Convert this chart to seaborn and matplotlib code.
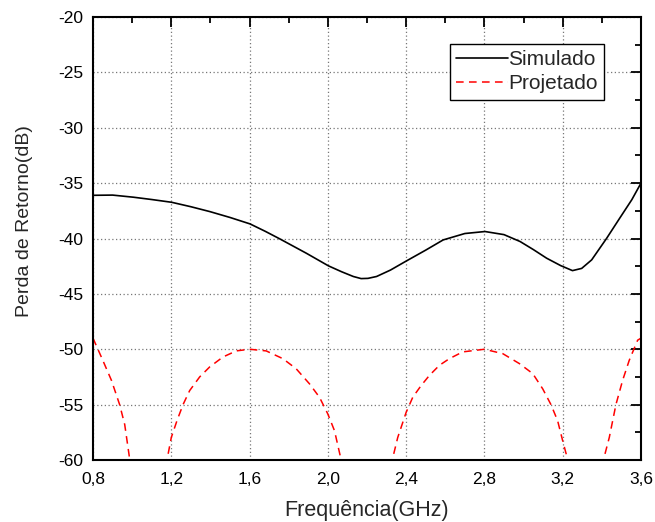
import pandas as pd
import matplotlib
matplotlib.use("Agg")
import matplotlib.pyplot as plt
from matplotlib.ticker import MultipleLocator
import seaborn as sns

# Simulado (linha preta)
freq_sim = [0.8, 0.9, 1.006, 1.1, 1.202, 1.3, 1.397, 1.5, 1.602, 1.68, 1.755,
            1.89, 2.003, 2.07, 2.13, 2.17, 2.205, 2.249, 2.32, 2.402, 2.5,
            2.589, 2.7, 2.803, 2.9, 2.982, 3.05, 3.118, 3.19, 3.25, 3.297,
            3.348, 3.425, 3.49, 3.553, 3.6]
perda_sim = [-36.1, -36.08, -36.27, -36.48, -36.73, -37.13, -37.57, -38.1,
             -38.68, -39.35, -40.04, -41.33, -42.47, -43.0, -43.43, -43.62,
             -43.6, -43.43, -42.85, -42.02, -41.05, -40.13, -39.55, -39.37,
             -39.65, -40.27, -41.0, -41.78, -42.45, -42.9, -42.7, -41.93,
             -39.97, -38.2, -36.5, -35.0]

# Projetado (linha vermelha tracejada), um arco por trecho visivel
freq_proj = [
    [0.8, 0.85, 0.894, 0.936, 0.962, 0.988, 0.992],
    [1.175, 1.178, 1.2, 1.229, 1.26, 1.294, 1.345, 1.396, 1.464, 1.532, 1.6,
     1.685, 1.77, 1.838, 1.906, 1.957, 2.0, 2.034, 2.068, 2.071],
    [2.326, 2.329, 2.357, 2.4, 2.434, 2.477, 2.519, 2.57, 2.621, 2.689, 2.8,
     2.894, 2.979, 3.047, 3.098, 3.14, 3.174, 3.2, 3.226, 3.229],
    [3.405, 3.408, 3.438, 3.472, 3.506, 3.54, 3.583, 3.6],
]
perda_proj = [
    [-49.0, -51.0, -52.8, -55.0, -56.8, -60.0, -60.6],
    [-60.6, -60.0, -57.97, -56.45, -55.0, -53.73, -52.5, -51.6, -50.7,
     -50.15, -50.0, -50.15, -50.85, -51.76, -53.12, -54.33, -55.85, -57.36,
     -60.0, -60.6],
    [-60.6, -60.0, -57.97, -55.7, -54.33, -53.27, -52.36, -51.45, -50.85,
     -50.24, -50.0, -50.4, -51.3, -52.2, -53.58, -55.0, -56.45, -58.27,
     -60.0, -60.6],
    [-60.6, -60.0, -57.97, -55.0, -52.82, -51.0, -49.18, -49.0],
]

xticks = [0.8, 1.2, 1.6, 2.0, 2.4, 2.8, 3.2, 3.6]
xticklabels = ["0,8", "1,2", "1,6", "2,0", "2,4", "2,8", "3,2", "3,6"]
yticks = [-60, -55, -50, -45, -40, -35, -30, -25, -20]

sns.set_style("white")
plt.rcParams["font.family"] = ["Liberation Sans", "DejaVu Sans"]
plt.rcParams["axes.unicode_minus"] = False

fig = plt.figure(figsize=(6.55, 5.22), dpi=100)
ax = fig.add_axes([0.142, 0.1188, 0.8366, 0.8486])

df_sim = pd.DataFrame({"freq": freq_sim, "perda": perda_sim})
sns.lineplot(data=df_sim, x="freq", y="perda", ax=ax, color="black",
             linewidth=1.2, label="Simulado")

for i, (fx, fy) in enumerate(zip(freq_proj, perda_proj)):
    arco = pd.DataFrame({"freq": fx, "perda": fy})
    sns.lineplot(data=arco, x="freq", y="perda", ax=ax, color="red",
                 linewidth=1.1, linestyle=(0, (5, 3.5)),
                 label="Projetado" if i == 0 else None)

ax.set_xlim(0.8, 3.6)
ax.set_ylim(-60, -20)
ax.set_xticks(xticks)
ax.set_xticklabels(xticklabels)
ax.set_yticks(yticks)
ax.xaxis.set_minor_locator(MultipleLocator(0.2))
ax.yaxis.set_minor_locator(MultipleLocator(2.5))
ax.tick_params(which="both", direction="in", top=True, right=True,
               width=1.3, colors="black")
ax.tick_params(which="major", length=7, labelsize=12.5)
ax.tick_params(axis="x", which="major", pad=9)
ax.tick_params(axis="y", which="major", pad=7)
ax.tick_params(which="minor", length=4)
for s in ax.spines.values():
    s.set_linewidth(1.5)
    s.set_color("black")

ax.grid(True, which="major", color="#777777", linestyle=(0, (1, 2)),
        linewidth=0.9)

ax.set_xlabel("Frequência(GHz)", fontsize=15.5, labelpad=9)
ax.set_ylabel("Perda de Retorno(dB)", fontsize=14)
ax.yaxis.set_label_coords(-0.11, 0.54)

leg = ax.legend(loc="upper right", bbox_to_anchor=(0.932, 0.939),
                fontsize=15, handlelength=2.5, handletextpad=0.0,
                borderpad=0.3, labelspacing=0.25, borderaxespad=0,
                fancybox=False, framealpha=1)
leg.get_frame().set_edgecolor("black")
leg.get_frame().set_linewidth(1.0)

fig.savefig("out.png", dpi=100)
